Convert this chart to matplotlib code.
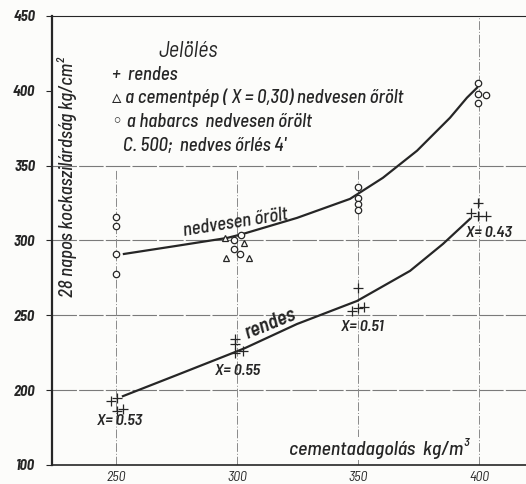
import matplotlib.pyplot as plt
from matplotlib import font_manager

# cement content (kg/m3) and 28-day cube strength (kg/cm2)
rendes_x = [247.9, 250.4, 252.9, 250.4, 299.2, 299.2, 299.2, 302.5,
            350.0, 347.5, 350.0, 352.5, 399.6, 396.7, 399.6, 402.9]
rendes_y = [192.6, 194.6, 187.3, 185.9, 234.1, 230.8, 224.8, 226.1,
            268.3, 252.9, 254.9, 255.6, 325.2, 318.5, 316.5, 316.5]

pep_x = [295.0, 303.0, 295.5, 305.1]
pep_y = [301.9, 298.6, 288.6, 288.6]

habarcs_x = [250.0, 250.0, 250.0, 250.0, 298.9, 301.5, 298.9, 301.2,
             350.0, 350.0, 350.0, 350.0, 399.6, 399.6, 402.9, 399.6]
habarcs_y = [315.8, 309.8, 291.0, 277.6, 300.4, 303.7, 294.2, 290.8,
             335.9, 328.5, 324.5, 320.5, 405.5, 398.1, 397.5, 392.2]

# hand-drawn trend curves
ned_curve_x = [253.3, 275.0, 295.9, 302.5, 324.8, 346.7, 360.3, 374.4, 388.0, 395.0, 399.2]
ned_curve_y = [291.0, 296.4, 301.7, 304.4, 315.1, 327.8, 341.9, 360.0, 382.0, 395.4, 402.1]
ren_curve_x = [252.9, 275.0, 297.1, 303.3, 324.8, 349.6, 371.5, 385.1, 396.3]
ren_curve_y = [196.0, 210.0, 224.1, 228.1, 244.2, 259.6, 279.7, 297.7, 314.5]

x_ticks = [250, 300, 350, 400]
y_ticks = [150, 200, 250, 300, 350, 400, 450]
y_labels = ['100', '200', '250', '300', '350', '400', '450']

# w/c ratio labels
wc_labels = ['X= 0.53', 'X= 0.55', 'X= 0.51', 'X= 0.43']
wc_pos = [(251.7, 179.3), (300.4, 212.7), (351.7, 242.2), (404.1, 305.1)]

names = {f.name for f in font_manager.fontManager.ttflist}
fam = ['Barlow Semi Condensed', 'DejaVu Sans'] if 'Barlow Semi Condensed' in names else ['DejaVu Sans']

ink = '#262626'
paper = '#fcfcfa'

fig = plt.figure(figsize=(5.26, 4.84), dpi=100, facecolor=paper)
ax = fig.add_axes([52/526, 19/484, 474/526, 449/484], facecolor=paper)
ax.set_xlim(223.6, 419.4)
ax.set_ylim(150, 450)

# grid
ax.hlines(y_ticks[1:5], 223.6, 419.4, colors='#7a7a7a', lw=0.8, linestyles=(0, (22, 2)), zorder=1)
ax.vlines(x_ticks[:3], 150, 347, colors='#8a8a8a', lw=0.7, linestyles=(0, (9, 2, 1, 2)), zorder=1)
ax.vlines(x_ticks[3], 150, 450, colors='#8a8a8a', lw=0.7, linestyles=(0, (9, 2, 1, 2)), zorder=1)

# curves
ax.plot(ned_curve_x, ned_curve_y, color=ink, lw=1.6, zorder=3)
ax.plot(ren_curve_x, ren_curve_y, color=ink, lw=1.6, zorder=3)

# measured points
ax.plot(rendes_x, rendes_y, '+', color=ink, ms=6.5, mew=0.9, zorder=4)
ax.plot(pep_x, pep_y, '^', mfc=paper, mec=ink, ms=5, mew=0.9, zorder=4)
ax.plot(habarcs_x, habarcs_y, 'o', mfc=paper, mec=ink, ms=4.6, mew=0.9, zorder=4)

ax.spines['right'].set_visible(False)
ax.spines['top'].set_linewidth(0.8)
ax.spines['left'].set_linewidth(1.6)
ax.spines['bottom'].set_linewidth(1.2)
for s in ax.spines.values():
    s.set_color(ink)

ax.set_yticks(y_ticks)
ax.set_yticklabels(y_labels, fontsize=10.5, fontweight='bold', fontstyle='italic',
                   color=ink, family=fam)
ax.tick_params(axis='y', length=4, width=0.8, color=ink, pad=8)
ax.set_xticks(x_ticks)
ax.set_xticklabels([str(v) for v in x_ticks], fontsize=10, fontstyle='italic',
                   color=ink, family=fam)
ax.tick_params(axis='x', length=0, pad=4)

ax.text(279.8, 426.2, 'Jelölés', fontsize=16, fontstyle='italic', fontweight='normal',
        color=ink, family=fam, ha='center', va='center')
legend_rows = ['+  rendes',
               '▵ a cementpép ( X = 0,30) nedvesen őrölt',
               '◦ a habarcs  nedvesen őrölt',
               '   C. 500;  nedves őrlés 4\'']
for row, yy in zip(legend_rows, [410.8, 395.4, 379.4, 363.3]):
    ax.text(248.3, yy, row, fontsize=13.6, fontstyle='italic', fontweight='medium',
            color=ink, family=fam, ha='left', va='center')

ax.text(299.2, 311.8, 'nedvesen őrölt', fontsize=13.5, fontstyle='italic',
        fontweight='medium', color=ink, family=fam, ha='center', va='center', rotation=9)
ax.text(313.6, 244.2, 'rendes', fontsize=14.5, fontstyle='italic', fontweight='semibold',
        color=ink, family=fam, ha='center', va='center', rotation=22)
for lab, (xx, yy) in zip(wc_labels, wc_pos):
    ax.text(xx, yy, lab, fontsize=11.5, fontstyle='italic', fontweight='semibold',
            color=ink, family=fam, ha='center', va='center')

ax.text(358.5, 161, 'cementadagolás  kg/m³', fontsize=14.3, fontstyle='italic',
        fontweight='medium', color=ink, family=fam, ha='center', va='center',
        bbox=dict(facecolor=paper, edgecolor='none', pad=1))
ax.text(0.032, 0.641, '28 napos kockaszilárdság kg/cm²', transform=ax.transAxes,
        fontsize=13.5, fontstyle='italic', fontweight='medium', color=ink, family=fam,
        rotation=90, ha='center', va='center')

fig.savefig('out.png', dpi=100, facecolor=paper)
